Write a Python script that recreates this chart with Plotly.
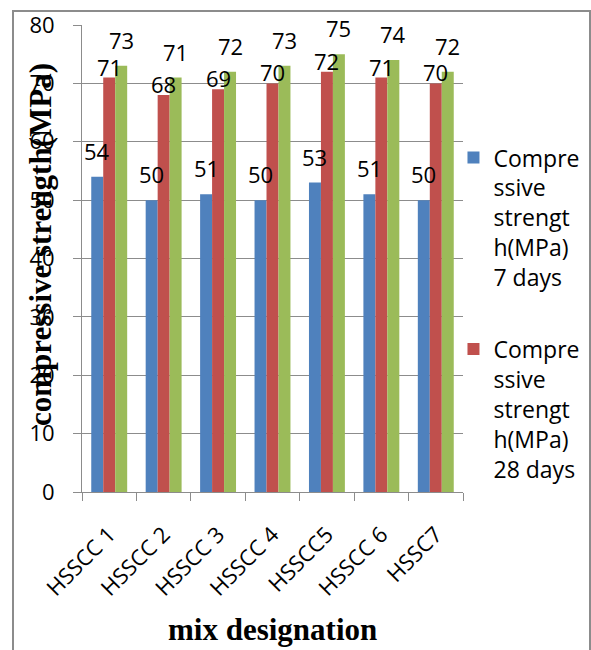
import plotly.graph_objects as go

# Mix designations and measured compressive strengths (MPa)
mixes = ["HSSCC 1", "HSSCC 2", "HSSCC 3", "HSSCC 4", "HSSCC5", "HSSCC 6", "HSSC7"]
strength_7d = [54, 50, 51, 50, 53, 51, 50]
strength_28d = [71, 68, 69, 70, 72, 71, 70]
strength_56d = [73, 71, 72, 73, 75, 74, 72]

series_names = [
    "Compre<br>ssive<br>strengt<br>h(MPa)<br>7 days",
    "Compre<br>ssive<br>strengt<br>h(MPa)<br>28 days",
    "Compressive strength(MPa) 56 days",
]
series_values = [strength_7d, strength_28d, strength_56d]
series_colors = ["#4F81BD", "#C0504D", "#9BBB59"]
show_in_legend = [True, True, False]
label_lift = [26, 11, 26]  # vertical offset of value labels above bar tops (px)

W, H = 591, 650
ML, MR, MT, MB = 82, 128, 25, 158
BARGAP = 0.34

SANS = "Open Sans"
SERIF = "Liberation Serif"
GRID = "#8C8C8C"

fig = go.Figure()
for name, vals, color, show in zip(series_names, series_values, series_colors, show_in_legend):
    fig.add_trace(go.Bar(
        x=mixes, y=vals, name=name, marker_color=color,
        marker_line_width=0, showlegend=show, legendgroup=name,
    ))

# Value labels centred over each bar of the group
plot_w = W - ML - MR
bar_px = plot_w / len(mixes) * (1 - BARGAP) / len(series_values)
annotations = []
for k, (vals, lift) in enumerate(zip(series_values, label_lift)):
    shift = (k - (len(series_values) - 1) / 2) * bar_px
    for m, v in zip(mixes, vals):
        annotations.append(dict(
            x=m, y=v, xref="x", yref="y", text=str(v), showarrow=False,
            xshift=shift, yshift=lift, yanchor="middle", xanchor="center",
            font=dict(family=SANS, size=22, color="black"),
        ))

plot_h = H - MT - MB
annotations.append(dict(
    text="<b>compressive strength(MPa)</b>", textangle=-90,
    xref="paper", yref="paper", x=(40 - ML) / plot_w, y=(H - MB - 245) / plot_h,
    xanchor="center", yanchor="middle", showarrow=False,
    font=dict(family=SERIF, size=31, color="black"),
))
annotations.append(dict(
    text="<b>mix designation</b>",
    xref="paper", yref="paper", x=0.5, y=(H - MB - 629) / plot_h,
    xanchor="center", yanchor="middle", showarrow=False,
    font=dict(family=SERIF, size=31, color="black"),
))

fig.update_layout(
    width=W, height=H,
    margin=dict(l=ML, r=MR, t=MT, b=MB, autoexpand=False),
    paper_bgcolor="white", plot_bgcolor="white",
    barmode="group", bargap=BARGAP, bargroupgap=0,
    font=dict(family=SANS, size=22, color="black"),
    annotations=annotations,
    legend=dict(
        x=0.975, y=0.762, xanchor="left", yanchor="top",
        font=dict(family=SANS, size=23, color="black"),
        valign="top", traceorder="grouped", tracegroupgap=39,
        bgcolor="rgba(0,0,0,0)",
    ),
    shapes=[dict(
        type="rect", xref="paper", yref="paper",
        x0=(13 - ML) / plot_w, x1=(590 - ML) / plot_w,
        y0=(H - MB - 700) / plot_h, y1=(H - MB - 11) / plot_h,
        line=dict(color=GRID, width=2), fillcolor="rgba(0,0,0,0)", layer="below",
    )],
)

fig.update_yaxes(
    range=[0, 80], dtick=10, tick0=0,
    showgrid=True, gridcolor=GRID, gridwidth=1,
    showline=True, linecolor=GRID, linewidth=1,
    ticks="outside", ticklen=8, tickcolor=GRID, tickwidth=1,
    ticklabelstandoff=14, zeroline=False,
    tickfont=dict(family=SANS, size=22, color="black"),
)
fig.update_xaxes(
    showline=True, linecolor=GRID, linewidth=1,
    ticks="outside", ticklen=8, tickcolor=GRID, tickwidth=1,
    tickson="boundaries", tickangle=-45, ticklabelstandoff=20,
    tickfont=dict(family=SANS, size=22, color="black"),
)

fig.write_html("out.html")
